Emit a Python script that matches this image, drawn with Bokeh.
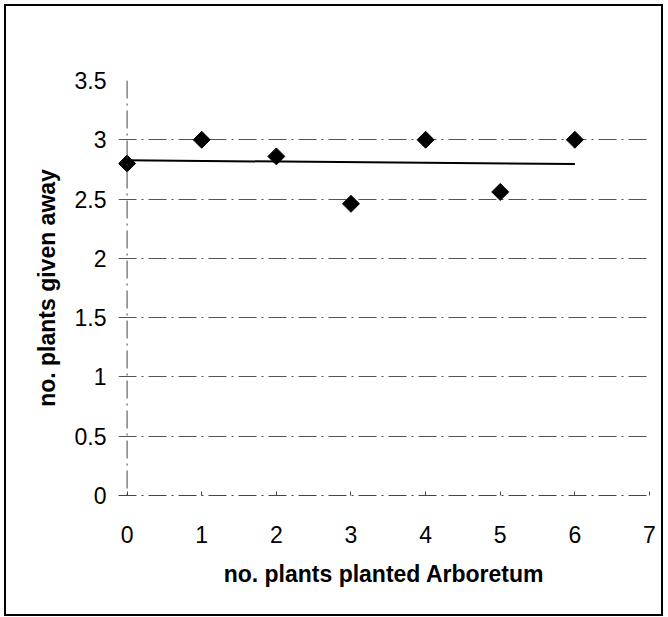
import numpy as np
from bokeh.plotting import figure
from bokeh.models import FixedTicker, CustomJSTickFormatter, Range1d, ColumnDataSource, Span
from bokeh.embed import file_html
from bokeh.resources import INLINE

x_planted = [0, 1, 2, 3, 4, 5, 6]
y_given = [2.80, 3.00, 2.86, 2.46, 3.00, 2.56, 3.00]
x_ticks = [0, 1, 2, 3, 4, 5, 6, 7]
y_ticks = [0, 0.5, 1, 1.5, 2, 2.5, 3, 3.5]

slope, intercept = np.polyfit(x_planted, y_given, 1)
trend_x = [min(x_planted), max(x_planted)]
trend_y = [intercept + slope * v for v in trend_x]

FONT = "Liberation Sans"
DASH = "18 5 2 5"
AXC = "#444444"

p = figure(width=659, height=612, output_backend="svg", toolbar_location=None,
           x_range=Range1d(-0.115, 7), y_range=Range1d(0, 3.5),
           min_border_left=112, min_border_right=16, min_border_top=74, min_border_bottom=123)
p.styles = {"border": "2px solid #000", "box-sizing": "border-box",
            "margin-left": "4px", "margin-top": "4px"}
p.outline_line_color = None
p.background_fill_color = "white"
p.border_fill_color = "white"

p.xgrid.grid_line_color = None
p.ygrid.grid_line_color = "#555555"
p.ygrid.grid_line_dash = DASH
p.ygrid.grid_line_width = 1

yaxis_line = Span(location=0, dimension="height", line_color=AXC, line_dash=DASH, line_width=1)
p.add_layout(yaxis_line)

src = ColumnDataSource(dict(x=x_planted, y=y_given))
p.line(trend_x, trend_y, line_color="black", line_width=2)
p.scatter("x", "y", source=src, marker="square", size=12, angle=np.pi / 4,
          fill_color="black", line_color="black")

for ax in (p.xaxis[0], p.yaxis[0]):
    ax.axis_line_color = AXC
    ax.axis_line_dash = DASH
    ax.major_tick_line_color = AXC
    ax.minor_tick_line_color = None
    ax.major_label_text_font = FONT
    ax.major_label_text_font_size = "23px"
    ax.major_label_text_color = "black"
    ax.axis_label_text_font = FONT
    ax.axis_label_text_font_size = "23px"
    ax.axis_label_text_font_style = "bold"
    ax.axis_label_text_color = "black"
    ax.formatter = CustomJSTickFormatter(code="return tick.toString();")

p.yaxis.axis_line_color = None
p.yaxis.major_tick_line_color = None
p.xaxis.ticker = FixedTicker(ticks=x_ticks)
p.yaxis.ticker = FixedTicker(ticks=y_ticks)
p.xaxis.major_tick_in = 4
p.xaxis.major_tick_out = 0
p.yaxis.major_tick_in = 0
p.yaxis.major_tick_out = 0
p.xaxis.major_label_standoff = 30
p.yaxis.major_label_standoff = 12
p.xaxis.axis_label = "no. plants planted Arboretum"
p.yaxis.axis_label = "no. plants given away"
p.xaxis.axis_label_standoff = 15
p.yaxis.axis_label_standoff = 12

open("out.html", "w").write(file_html(p, INLINE))
